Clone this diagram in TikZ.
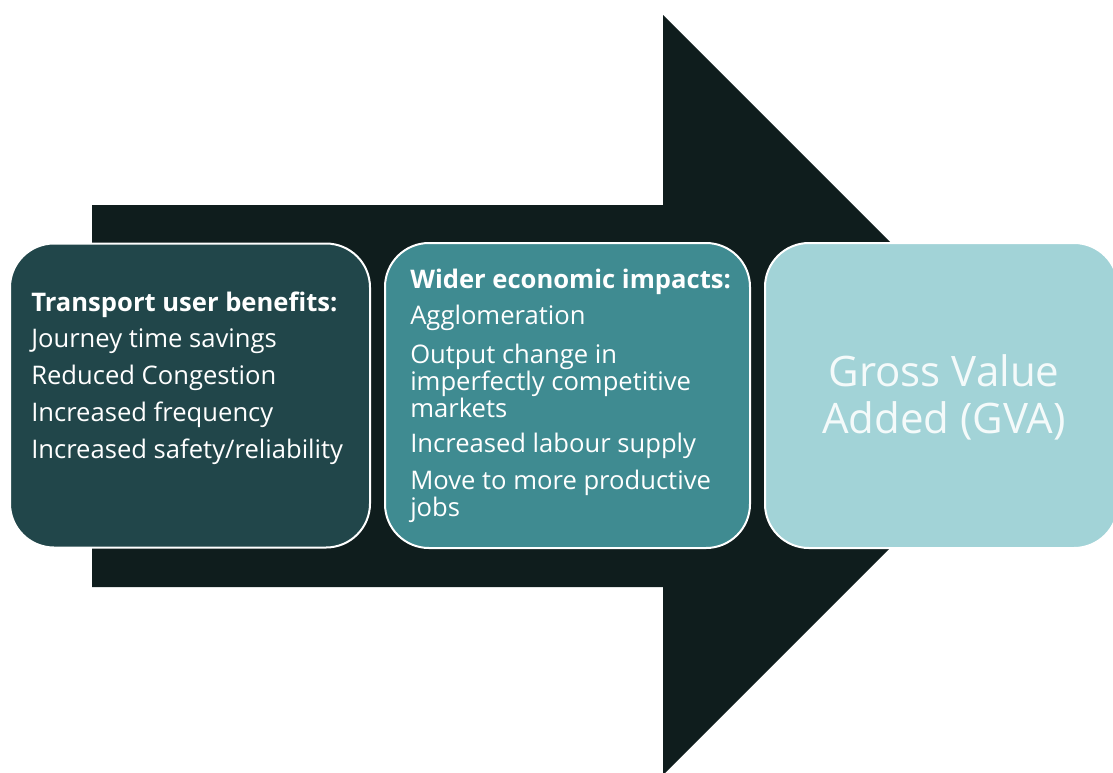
\documentclass[tikz,border=0pt]{standalone}
\usepackage{fontspec}
\setmainfont{Open Sans}
\definecolor{arrowc}{HTML}{0F1D1D}
\definecolor{cone}{HTML}{21464A}
\definecolor{ctwo}{HTML}{3F8B91}
\definecolor{cthree}{HTML}{A2D3D7}
\definecolor{gvatext}{HTML}{F4FAFA}
\begin{document}
\begin{tikzpicture}[x=0.75pt,y=-0.75pt,
  box/.style={draw=white, line width=1.5pt, rounded corners=33pt, inner sep=0pt},
  bodytext/.style={text=white, align=left, inner sep=0pt, anchor=base west,
    font=\fontsize{19.2}{20.25}\selectfont}]
\useasboundingbox (0,0) rectangle (1113,772);
\clip (0,0) rectangle (1113,772);
\fill[arrowc] (92,205) -- (663,205) -- (663,15) -- (1043,395) -- (663,775)
  -- (663,587) -- (92,587) -- cycle;
\node[box, fill=cone, minimum width=270pt, minimum height=228pt] (b1) at (190,395.5) {};
\node[box, fill=ctwo, minimum width=273.75pt, minimum height=228.75pt] (b2) at (567.5,395.5) {};
\node[box, fill=cthree, minimum width=264.75pt, minimum height=228.75pt] (b3) at (941.5,395.5) {};
\node[bodytext] (t1) at (31,458) {\textbf{Transport user benefits:}\\[7.3pt]
  Journey time savings\\[7.3pt]
  Reduced Congestion\\[7.3pt]
  Increased frequency\\[7.3pt]
  Increased safety/reliability};
\node[bodytext] (t2) at (410,516) {\textbf{Wider economic impacts:}\\[6.2pt]
  Agglomeration\\[9.2pt]
  Output change in\\
  imperfectly competitive\\
  markets\\[6.2pt]
  Increased labour supply\\[7pt]
  Move to more productive\\
  jobs};
\node[text=gvatext, align=center, inner sep=0pt, font=\fontsize{31.5}{35.25}\selectfont] (t3) at (944,397) {Gross Value\\Added (GVA)};
\end{tikzpicture}
\end{document}
